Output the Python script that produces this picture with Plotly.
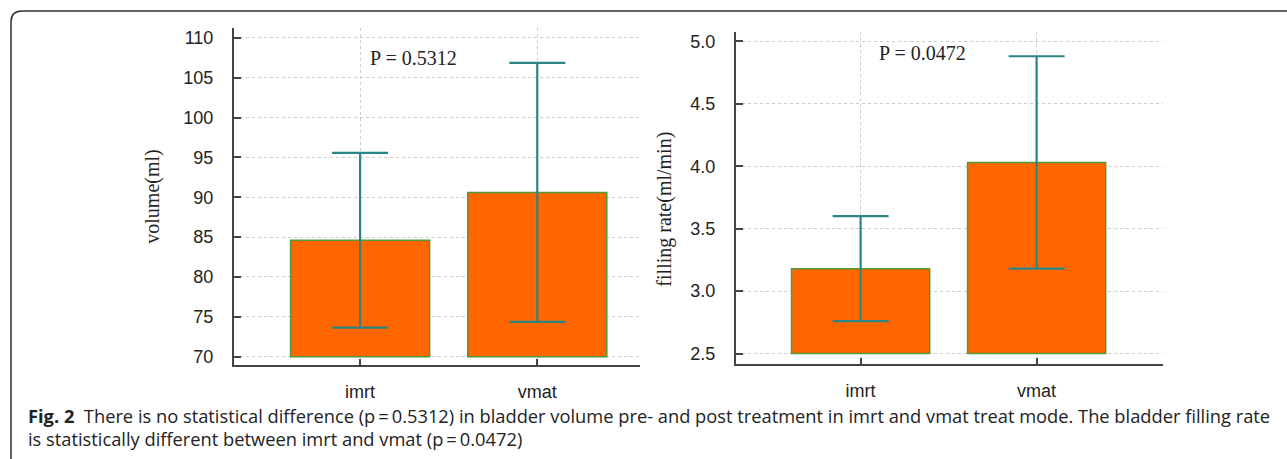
import plotly.graph_objects as go

# ---- data ----
categories = ["imrt", "vmat"]
volume_mean = [84.6, 90.6]
volume_sd = [10.95, 16.25]
rate_mean = [3.18, 4.03]
rate_sd = [0.42, 0.85]
volume_ticks = [70, 75, 80, 85, 90, 95, 100, 105, 110]
rate_ticks = [2.5, 3.0, 3.5, 4.0, 4.5, 5.0]
volume_base = 70
rate_base = 2.5
p_volume = "P = 0.5312"
p_rate = "P = 0.0472"
caption1 = ("<b>Fig. 2</b>  There is no statistical difference (p\u2009=\u20090.5312) in bladder volume pre- and post treatment "
            "in imrt and vmat treat mode. The bladder filling rate")
caption2 = "is statistically different between imrt and vmat (p\u2009=\u20090.0472)"

W, H = 1287, 459
BAR = "#FF6600"
EDGE = "#4E9A3A"
ERR = "#2A8585"
AX = "#444444"

fig = go.Figure()

def add_bars(means, sds, base, xa, ya):
    fig.add_trace(go.Bar(
        x=categories, y=[m - base for m in means], base=base,
        marker=dict(color=BAR, line=dict(color=EDGE, width=1.5)),
        width=0.785,
        error_y=dict(type="data", array=sds, visible=True, color=ERR, thickness=2.2, width=28),
        xaxis=xa, yaxis=ya, showlegend=False))

add_bars(volume_mean, volume_sd, volume_base, "x", "y")
add_bars(rate_mean, rate_sd, rate_base, "x2", "y2")

def px_x(p):
    return p / W

def px_y(p):
    return 1 - p / H

tickfont = dict(family="Liberation Sans", size=18, color="#222")
common_x = dict(showline=True, linecolor=AX, linewidth=2, ticks="inside", ticklen=6,
                tickwidth=2, tickcolor=AX, showgrid=True, gridcolor="#cccccc", griddash="dot",
                gridwidth=1, zeroline=False, tickfont=tickfont,
                ticklabelstandoff=10, type="category")
common_y = dict(showline=True, linecolor=AX, linewidth=2, ticks="inside", ticklen=7,
                tickwidth=2, tickcolor=AX, showgrid=True, gridcolor="#cccccc", griddash="dot",
                gridwidth=1, zeroline=False, tickfont=tickfont,
                ticklabelstandoff=15)

fig.update_layout(
    width=W, height=H, margin=dict(l=0, r=0, t=0, b=0),
    paper_bgcolor="white", plot_bgcolor="white", bargap=0.2,
    xaxis=dict(domain=[px_x(234), px_x(640)], range=[-0.712, 1.58], anchor="y", **common_x),
    yaxis=dict(domain=[px_y(366), px_y(27)], range=[69.0, 111.25], anchor="x",
               tickvals=volume_ticks, **common_y),
    xaxis2=dict(domain=[px_x(736), px_x(1163)], range=[-0.708, 1.718], anchor="y2", **common_x),
    yaxis2=dict(domain=[px_y(365), px_y(31.7)], range=[2.42, 5.07], anchor="x2",
                tickvals=rate_ticks, tickformat=".1f", **common_y),
)

serif = dict(family="Liberation Serif", size=20, color="#222")
capfont = dict(family="Open Sans", size=18.3, color="#222")
ann = [
    dict(text="volume(ml)", x=px_x(153), y=px_y(197), textangle=-90, font=serif),
    dict(text="filling rate(ml/min)", x=px_x(665), y=px_y(210), textangle=-90, font=serif),
    dict(text=p_volume, x=px_x(413), y=px_y(57), font=serif),
    dict(text=p_rate, x=px_x(923), y=px_y(52), font=serif),
    dict(text=caption1, x=px_x(26), y=px_y(417), xanchor="left", font=capfont),
    dict(text=caption2, x=px_x(26), y=px_y(440), xanchor="left", font=capfont),
]
for a in ann:
    a.setdefault("xref", "paper")
    a.setdefault("yref", "paper")
    a.setdefault("showarrow", False)
    a.setdefault("xanchor", "center")
    a.setdefault("yanchor", "middle")
    fig.add_annotation(**a)

# rounded figure frame (open on right and bottom)
path = (f"M {px_x(11)},{px_y(470)} L {px_x(11)},{px_y(21)} "
        f"Q {px_x(11)},{px_y(10)} {px_x(22)},{px_y(10)} L {px_x(1300)},{px_y(10)}")
fig.add_shape(type="path", path=path, xref="paper", yref="paper",
              line=dict(color="#333", width=1.5))

fig.write_html("out.html", config={"displayModeBar": False})

# remove default page margin so the figure sits at the window's top-left
with open("out.html", "r", encoding="utf-8") as f:
    html = f.read()
html = html.replace("<body>", '<body style="margin:0;padding:0;overflow:hidden">', 1)
with open("out.html", "w", encoding="utf-8") as f:
    f.write(html)
